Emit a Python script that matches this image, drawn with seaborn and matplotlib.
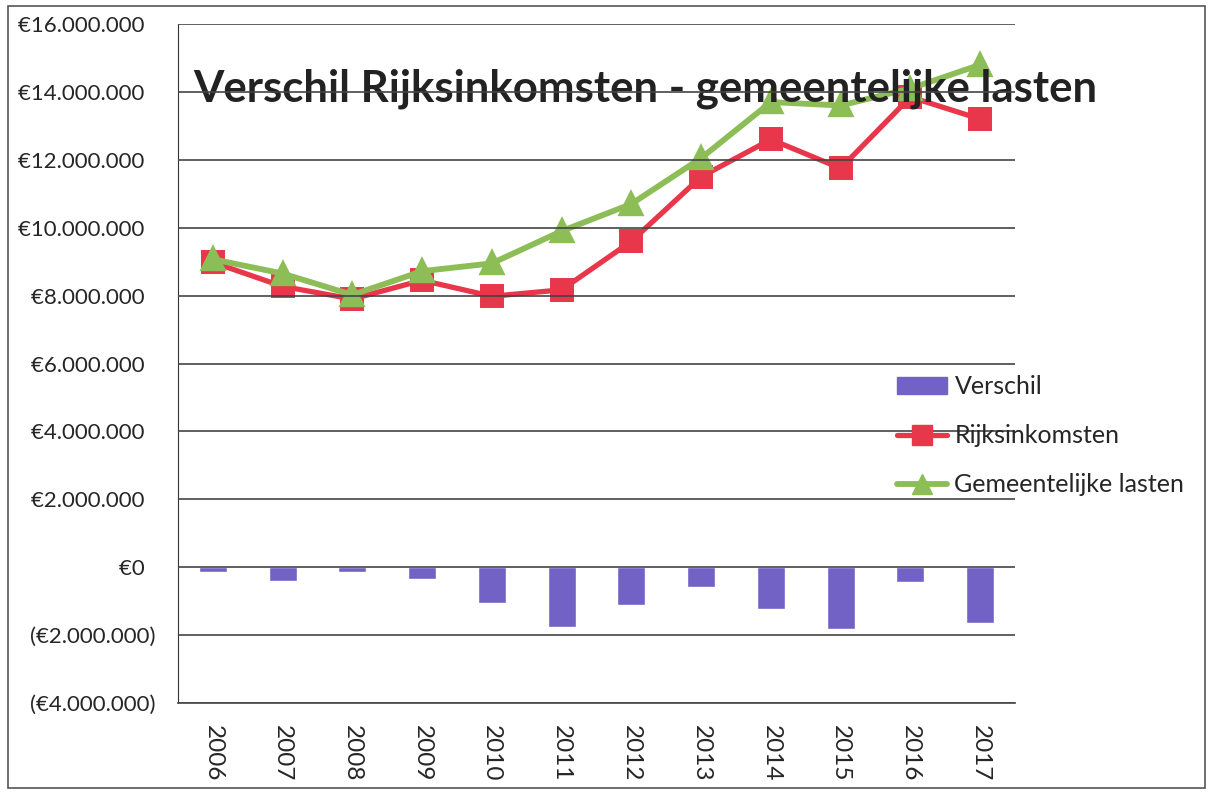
import numpy as np
import pandas as pd
import matplotlib
matplotlib.use("Agg")
import matplotlib.pyplot as plt
import seaborn as sns
from matplotlib.patches import Rectangle, Patch
from matplotlib.lines import Line2D

# ── Data (in millions of euros) ──
YEARS = ["2006", "2007", "2008", "2009", "2010", "2011",
         "2012", "2013", "2014", "2015", "2016", "2017"]

verschil        = [-0.15, -0.40, -0.13, -0.35, -1.05, -1.75,
                   -1.12, -0.58, -1.22, -1.82, -0.45, -1.65]
rijksinkomsten  = [8.98, 8.27, 7.90, 8.45, 7.98, 8.17,
                   9.60, 11.50, 12.60, 11.75, 13.85, 13.20]
gemeente_lasten = [9.07, 8.65, 8.02, 8.72, 8.95, 9.90,
                   10.70, 12.05, 13.70, 13.60, 14.10, 14.80]

Y_TICKS = np.arange(-4, 17, 2) * 1_000_000

df = pd.DataFrame({
    "jaar": YEARS,
    "Verschil": np.array(verschil) * 1e6,
    "Rijksinkomsten": np.array(rijksinkomsten) * 1e6,
    "Gemeentelijke lasten": np.array(gemeente_lasten) * 1e6,
})

BAR_COLOR   = "#7262c6"
RED_COLOR   = "#e8374a"
GREEN_COLOR = "#8dbd56"

sns.set_style("white")
plt.rcParams["font.family"] = ["Lato", "DejaVu Sans"]

fig = plt.figure(figsize=(12.09, 7.92), dpi=100)
ax = fig.add_axes([178 / 1209, 1 - 703 / 792, 837 / 1209, (703 - 24) / 792])

sns.barplot(data=df, x="jaar", y="Verschil", color=BAR_COLOR,
            width=0.4, saturation=1, ax=ax, zorder=1)
sns.pointplot(data=df, x="jaar", y="Rijksinkomsten", color=RED_COLOR,
              marker="s", markersize=14, linewidth=3.8, ax=ax)
sns.pointplot(data=df, x="jaar", y="Gemeentelijke lasten", color=GREEN_COLOR,
              marker="^", markersize=15, linewidth=4.2, ax=ax)

ax.set_xlim(-0.5, 11.5)
ax.set_ylim(Y_TICKS[0], Y_TICKS[-1])
ax.set_yticks(Y_TICKS)

def euro(v):
    s = f"€{abs(int(v)):,}".replace(",", ".")
    return f"({s})" if v < 0 else s + "\u00a0\u00a0"

ax.set_yticklabels([euro(v) for v in Y_TICKS], fontsize=16)
ax.set_xticks(range(len(YEARS)))
ax.set_xticklabels(YEARS, rotation=270, fontsize=17.5)
ax.tick_params(axis="y", length=0, pad=16)
ax.tick_params(axis="x", length=0, pad=16)
ax.set_xlabel("")
ax.set_ylabel("")

# gridlines sit on top of the series, as in the scan
ax.set_axisbelow(False)
ax.yaxis.grid(True, color="#444444", linewidth=1.2)
ax.xaxis.grid(False)
for side in ["top", "right"]:
    ax.spines[side].set_visible(False)
ax.spines["left"].set_color("#333333")
ax.spines["bottom"].set_color("#444444")
ax.spines["bottom"].set_linewidth(1.2)

ax.text((645 - 178) / 837, (703 - 89) / 679,
        "Verschil Rijksinkomsten - gemeentelijke lasten",
        transform=ax.transAxes, ha="center", va="center",
        fontsize=31.5, fontweight="bold", color="#222222", zorder=2.2)

handles = [
    Patch(facecolor=BAR_COLOR, edgecolor=BAR_COLOR),
    Line2D([], [], color=RED_COLOR, marker="s", markersize=14, linewidth=3.8),
    Line2D([], [], color=GREEN_COLOR, marker="^", markersize=15, linewidth=4.2),
]
fig.legend(handles, ["Verschil", "Rijksinkomsten", "Gemeentelijke lasten"],
           loc="upper left", bbox_to_anchor=(897 / 1209, 1 - 375 / 792),
           frameon=False, fontsize=18, handlelength=2.0, handletextpad=0.3,
           labelspacing=1.05, borderaxespad=0, borderpad=0)

# outer border of the scanned chart
fig.patches.append(Rectangle((8 / 1209, 1 - 788 / 792), (1205 - 8) / 1209,
                             (788 - 6) / 792, transform=fig.transFigure,
                             fill=False, edgecolor="#555555", linewidth=1.2))

fig.savefig("out.png", dpi=100)
